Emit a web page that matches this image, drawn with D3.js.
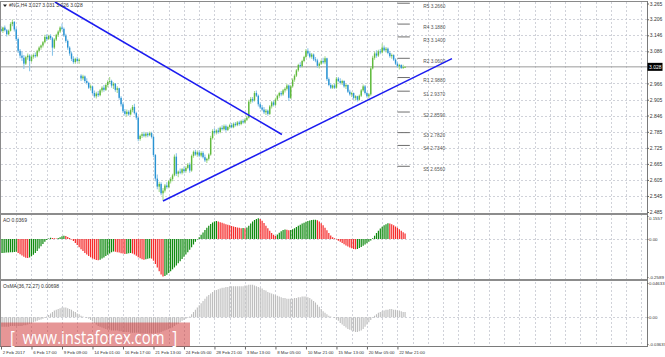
<!DOCTYPE html>
<html><head><meta charset="utf-8">
<script src="https://cdn.jsdelivr.net/npm/d3@7"></script>
<style>body{margin:0;background:#fff}svg{display:block}</style>
</head><body><svg id="c" width="665" height="357"></svg>
<script>
// ---------- DATA ----------
const open=[3.170,3.162,3.175,3.165,3.150,3.163,3.188,3.196,3.168,3.132,
3.088,3.070,3.062,3.040,3.064,3.070,3.050,3.066,3.072,3.068,
3.088,3.100,3.108,3.120,3.140,3.132,3.144,3.135,3.100,3.130,
3.148,3.160,3.175,3.170,3.145,3.125,3.100,3.078,3.058,3.046,
3.058,3.050,2.995,2.985,2.992,2.975,2.968,2.950,2.955,2.930,
2.918,2.928,2.922,2.940,2.950,2.942,2.960,2.972,2.975,2.958,
2.965,2.942,2.948,2.912,2.888,2.862,2.852,2.860,2.850,2.866,
2.878,2.855,2.838,2.758,2.770,2.776,2.770,2.778,2.772,2.780,
2.766,2.698,2.610,2.580,2.590,2.555,2.565,2.584,2.578,2.600,
2.608,2.622,2.692,2.628,2.636,2.632,2.645,2.638,2.650,2.662,
2.640,2.695,2.710,2.700,2.708,2.696,2.706,2.690,2.678,2.684,
2.700,2.762,2.788,2.782,2.790,2.784,2.800,2.795,2.806,2.792,
2.803,2.810,2.802,2.815,2.810,2.820,2.814,2.825,2.820,2.830,
2.838,2.898,2.908,2.902,2.930,2.920,2.888,2.876,2.868,2.858,
2.864,2.852,2.880,2.895,2.886,2.906,2.920,2.930,2.925,2.940,
2.946,2.958,2.912,2.955,2.980,2.995,3.015,3.035,3.030,3.050,
3.065,3.088,3.078,3.066,3.074,3.056,3.052,3.032,3.040,3.050,
3.045,3.060,2.982,2.960,2.950,2.958,2.950,2.984,2.975,2.968,
2.975,2.955,2.960,2.935,2.925,2.930,2.912,2.918,2.905,2.920,
2.940,2.955,2.930,2.918,2.925,3.022,3.062,3.078,3.070,3.086,
3.082,3.100,3.090,3.096,3.080,3.068,3.072,3.055,3.040,3.030,
3.035,3.024,3.027];
const high=[3.180,3.178,3.183,3.170,3.168,3.195,3.205,3.200,3.175,3.138,
3.095,3.085,3.072,3.070,3.078,3.075,3.072,3.078,3.082,3.092,
3.105,3.112,3.125,3.148,3.150,3.148,3.150,3.140,3.135,3.152,
3.165,3.180,3.190,3.175,3.152,3.130,3.105,3.085,3.068,3.062,
3.066,3.060,3.000,2.998,2.996,2.985,2.972,2.962,2.958,2.940,
2.935,2.938,2.945,2.955,2.960,2.965,2.978,2.990,2.980,2.970,
2.968,2.955,2.950,2.918,2.895,2.870,2.868,2.866,2.872,2.885,
2.890,2.860,2.842,2.775,2.782,2.785,2.782,2.784,2.786,2.785,
2.770,2.702,2.625,2.598,2.596,2.575,2.590,2.596,2.605,2.615,
2.628,2.700,2.705,2.640,2.648,2.650,2.655,2.656,2.668,2.670,
2.700,2.715,2.718,2.715,2.716,2.712,2.712,2.700,2.688,2.705,
2.770,2.795,2.798,2.795,2.800,2.805,2.810,2.812,2.812,2.808,
2.815,2.818,2.820,2.822,2.825,2.826,2.830,2.832,2.836,2.845,
2.905,2.915,2.915,2.938,2.940,2.925,2.895,2.885,2.878,2.870,
2.868,2.885,2.900,2.902,2.912,2.925,2.935,2.938,2.945,2.952,
2.965,2.962,2.960,2.985,3.000,3.020,3.040,3.045,3.055,3.070,
3.095,3.098,3.085,3.080,3.078,3.065,3.058,3.045,3.055,3.062,
3.068,3.062,2.988,2.968,2.962,2.965,2.990,2.990,2.985,2.980,
2.978,2.965,2.962,2.942,2.935,2.932,2.922,2.920,2.925,2.945,
2.962,2.960,2.935,2.930,3.030,3.070,3.085,3.090,3.092,3.095,
3.115,3.108,3.102,3.100,3.086,3.078,3.075,3.060,3.048,3.040,
3.038,3.036,3.031];
const low=[3.158,3.155,3.160,3.142,3.145,3.160,3.180,3.160,3.125,3.080,
3.060,3.050,3.020,3.035,3.055,3.012,3.045,3.058,3.062,3.064,
3.082,3.092,3.100,3.115,3.125,3.128,3.128,3.070,3.095,3.125,
3.140,3.155,3.165,3.140,3.118,3.092,3.070,3.050,3.040,3.040,
3.045,3.040,2.975,2.978,2.968,2.962,2.945,2.940,2.925,2.912,
2.910,2.915,2.918,2.932,2.935,2.938,2.952,2.965,2.950,2.945,
2.935,2.930,2.905,2.880,2.855,2.845,2.842,2.845,2.846,2.858,
2.850,2.830,2.750,2.752,2.762,2.765,2.764,2.765,2.768,2.760,
2.690,2.600,2.570,2.560,2.548,2.528,2.558,2.572,2.574,2.592,
2.600,2.618,2.620,2.615,2.626,2.625,2.630,2.632,2.645,2.632,
2.636,2.688,2.695,2.692,2.690,2.690,2.685,2.672,2.668,2.678,
2.695,2.756,2.776,2.775,2.778,2.780,2.790,2.790,2.785,2.788,
2.796,2.798,2.798,2.805,2.806,2.808,2.810,2.815,2.816,2.825,
2.835,2.890,2.895,2.898,2.915,2.880,2.870,2.862,2.852,2.848,
2.845,2.848,2.872,2.880,2.882,2.900,2.912,2.918,2.920,2.932,
2.940,2.900,2.908,2.950,2.972,2.990,3.010,3.025,3.026,3.045,
3.060,3.070,3.060,3.058,3.050,3.045,3.025,3.022,3.035,3.040,
3.038,2.975,2.955,2.945,2.945,2.945,2.946,2.970,2.962,2.960,
2.950,2.945,2.930,2.920,2.915,2.905,2.902,2.898,2.902,2.915,
2.935,2.925,2.912,2.910,2.920,3.018,3.055,3.062,3.065,3.075,
3.078,3.085,3.082,3.075,3.062,3.058,3.050,3.035,3.025,3.018,
3.020,3.020,3.026];
const close=[3.162,3.175,3.165,3.150,3.163,3.188,3.196,3.168,3.132,3.088,
3.070,3.062,3.040,3.064,3.070,3.050,3.066,3.072,3.068,3.088,
3.100,3.108,3.120,3.140,3.132,3.144,3.135,3.100,3.130,3.148,
3.160,3.175,3.170,3.145,3.125,3.100,3.078,3.058,3.046,3.058,
3.050,3.055,2.985,2.992,2.975,2.968,2.950,2.955,2.930,2.918,
2.928,2.922,2.940,2.950,2.942,2.960,2.972,2.975,2.958,2.965,
2.942,2.948,2.912,2.888,2.862,2.852,2.860,2.850,2.866,2.878,
2.855,2.838,2.758,2.770,2.776,2.770,2.778,2.772,2.780,2.766,
2.698,2.610,2.580,2.590,2.555,2.565,2.584,2.578,2.600,2.608,
2.622,2.692,2.628,2.636,2.632,2.645,2.638,2.650,2.662,2.640,
2.695,2.710,2.700,2.708,2.696,2.706,2.690,2.678,2.684,2.700,
2.762,2.788,2.782,2.790,2.784,2.800,2.795,2.806,2.792,2.803,
2.810,2.802,2.815,2.810,2.820,2.814,2.825,2.820,2.830,2.838,
2.898,2.908,2.902,2.930,2.920,2.888,2.876,2.868,2.858,2.864,
2.852,2.880,2.895,2.886,2.906,2.920,2.930,2.925,2.940,2.946,
2.958,2.912,2.955,2.980,2.995,3.015,3.035,3.030,3.050,3.065,
3.088,3.078,3.066,3.074,3.056,3.052,3.032,3.040,3.050,3.045,
3.060,2.982,2.960,2.950,2.958,2.950,2.984,2.975,2.968,2.975,
2.955,2.960,2.935,2.925,2.930,2.912,2.918,2.905,2.920,2.940,
2.955,2.930,2.918,2.925,3.022,3.062,3.078,3.070,3.086,3.082,
3.100,3.090,3.096,3.080,3.068,3.072,3.055,3.040,3.030,3.035,
3.024,3.027,3.028];
const ao=[-0.096,-0.095,-0.094,-0.093,-0.092,-0.091,-0.090,-0.089,-0.088,-0.095,
-0.104,-0.113,-0.122,-0.128,-0.130,-0.126,-0.118,-0.108,-0.096,-0.082,
-0.066,-0.050,-0.034,-0.020,-0.008,0.002,0.008,0.006,0.004,0.003,
0.007,0.012,0.018,0.021,0.019,0.013,0.006,-0.004,-0.015,-0.028,
-0.042,-0.056,-0.070,-0.083,-0.095,-0.106,-0.116,-0.125,-0.133,-0.139,
-0.143,-0.145,-0.141,-0.134,-0.126,-0.117,-0.108,-0.099,-0.091,-0.085,
-0.087,-0.090,-0.093,-0.097,-0.100,-0.103,-0.101,-0.098,-0.096,-0.099,
-0.106,-0.115,-0.124,-0.132,-0.138,-0.141,-0.139,-0.135,-0.132,-0.134,
-0.148,-0.170,-0.195,-0.220,-0.242,-0.256,-0.252,-0.243,-0.232,-0.220,
-0.207,-0.194,-0.180,-0.166,-0.152,-0.137,-0.122,-0.106,-0.090,-0.074,
-0.056,-0.038,-0.020,-0.004,0.012,0.028,0.044,0.060,0.075,0.089,
0.101,0.111,0.118,0.121,0.118,0.114,0.110,0.105,0.100,0.096,
0.092,0.088,0.084,0.081,0.078,0.075,0.073,0.074,0.072,0.078,
0.090,0.104,0.118,0.128,0.136,0.141,0.136,0.124,0.108,0.090,
0.072,0.055,0.040,0.028,0.020,0.030,0.042,0.052,0.060,0.064,
0.062,0.058,0.060,0.066,0.073,0.081,0.089,0.097,0.104,0.110,
0.116,0.121,0.125,0.128,0.130,0.131,0.126,0.118,0.106,0.092,
0.076,0.058,0.040,0.024,0.012,0.004,-0.004,-0.012,-0.020,-0.028,
-0.036,-0.044,-0.052,-0.058,-0.064,-0.068,-0.071,-0.068,-0.062,-0.055,
-0.047,-0.038,-0.029,-0.020,-0.010,0.004,0.022,0.040,0.056,0.070,
0.082,0.092,0.100,0.106,0.104,0.099,0.092,0.084,0.075,0.065,
0.056,0.046,0.0369];
const osma=[-0.013,-0.013,-0.013,-0.013,-0.013,-0.012,-0.012,-0.012,-0.012,-0.012,
-0.012,-0.012,-0.011,-0.011,-0.010,-0.009,-0.008,-0.007,-0.006,-0.005,
-0.004,-0.003,-0.002,-0.001,0.001,0.003,0.005,0.007,0.009,0.010,
0.011,0.012,0.013,0.013,0.013,0.012,0.011,0.010,0.008,0.007,
0.005,0.004,0.002,0.001,0.000,-0.001,-0.002,-0.004,-0.006,-0.008,
-0.010,-0.012,-0.013,-0.014,-0.015,-0.016,-0.017,-0.017,-0.018,-0.018,
-0.018,-0.018,-0.019,-0.019,-0.020,-0.020,-0.020,-0.020,-0.021,-0.021,
-0.021,-0.021,-0.021,-0.022,-0.022,-0.022,-0.022,-0.022,-0.022,-0.022,
-0.022,-0.022,-0.021,-0.021,-0.020,-0.019,-0.018,-0.017,-0.016,-0.015,
-0.014,-0.012,-0.010,-0.009,-0.007,-0.005,-0.004,-0.002,-0.001,0.001,
0.004,0.007,0.010,0.013,0.016,0.019,0.022,0.025,0.028,0.030,
0.032,0.034,0.036,0.037,0.038,0.039,0.040,0.040,0.041,0.041,
0.042,0.042,0.042,0.042,0.042,0.042,0.042,0.042,0.043,0.043,
0.044,0.044,0.044,0.043,0.042,0.041,0.040,0.039,0.037,0.036,
0.034,0.033,0.032,0.031,0.030,0.029,0.028,0.027,0.026,0.026,
0.025,0.025,0.025,0.025,0.026,0.026,0.027,0.027,0.028,0.028,
0.028,0.027,0.026,0.024,0.022,0.020,0.017,0.014,0.011,0.008,
0.006,0.004,0.002,0.001,0.000,-0.001,-0.003,-0.005,-0.008,-0.010,
-0.012,-0.014,-0.016,-0.017,-0.018,-0.019,-0.020,-0.020,-0.019,-0.018,
-0.016,-0.013,-0.010,-0.007,-0.004,-0.001,0.002,0.004,0.006,0.007,
0.008,0.009,0.010,0.010,0.011,0.011,0.010,0.010,0.009,0.009,
0.008,0.007,0.00698];
const priceTicks=[3.265,3.206,3.146,3.086,2.966,2.905,2.846,2.785,2.725,2.665,2.605,2.545,2.485];
const priceTickLabels=["3.265","3.206","3.146","3.086","2.966","2.905","2.846","2.785","2.725","2.665","2.605","2.545","2.485"];
const timeIdx=[0,16,32,48,64,80,96,112,128,144,160,176,192,208];
const timeLabels=["2 Feb 2017","6 Feb 17:00","9 Feb 09:00","14 Feb 01:00","16 Feb 17:00","21 Feb 13:00","24 Feb 05:00","28 Feb 21:00","3 Mar 13:00","8 Mar 05:00","10 Mar 21:00","15 Mar 13:00","20 Mar 05:00","22 Mar 21:00"];
const pivotNames=["R5","R4","R3","R2","R1","S1","S2","S3","S4","S5"];
const pivotValues=[3.2660,3.1880,3.1400,3.0600,2.9880,2.9370,2.8590,2.7820,2.7340,2.6560];
const pivotSpan=[208,214.5,221.5]; // bar index: line start, line end, label start
const trend1=[[28.3,3.2706],[147.4,2.775]];
const trend2=[[85.0,2.526],[236.6,3.059]];
const aoTicks=[0.1557,0,-0.2589], aoTickLabels=["0.1557","0.00","-0.2589"];
const osTicks=[0.04633,0,-0.03637], osTickLabels=["0.04633","0.00","-0.03637"];
const titleText="#NG,H4  3.027 3.031 3.026 3.028";
const aoTitle="AO 0.0369", osTitle="OsMA(36,72,27) 0.00698";
const lastPrice=3.028;

// ---------- SCALES ----------
const svg=d3.select('#c');
const FONT='"Liberation Sans", Arial, sans-serif';
const x=d3.scaleLinear().domain([0,339]).range([1,1+339*1.906]);
const yM=d3.scaleLinear().domain([2.485,3.265]).range([212,3.5]);
const yA=d3.scaleLinear().domain([-0.2589,0.1557]).range([277,216]);
const yO=d3.scaleLinear().domain([-0.03637,0.04633]).range([344,283]);
const R=647;

svg.append('rect').attr('width',665).attr('height',357).attr('fill','#fff');

const defs=svg.append('defs');
defs.append('clipPath').attr('id','cm').append('rect').attr('x',1).attr('y',1.5).attr('width',R-1).attr('height',211);
defs.append('clipPath').attr('id','ca').append('rect').attr('x',1).attr('y',215.5).attr('width',R-1).attr('height',63.5);
defs.append('clipPath').attr('id','co').append('rect').attr('x',1).attr('y',281.5).attr('width',R-1).attr('height',65);

// ---------- GRID ----------
const grid=svg.append('g').attr('stroke','#c4c7cf').attr('stroke-width',0.8).attr('stroke-dasharray','2,2').attr('shape-rendering','crispEdges');
const vIdx=d3.range(8,337,8);
grid.selectAll('line.v').data(vIdx).join('line').attr('class','v')
  .attr('x1',d=>Math.round(x(d))+0.5).attr('x2',d=>Math.round(x(d))+0.5).attr('y1',2).attr('y2',346);
grid.selectAll('line.h').data(priceTicks.slice(1,-1)).join('line').attr('class','h')
  .attr('x1',1).attr('x2',R).attr('y1',d=>Math.round(yM(d))+0.5).attr('y2',d=>Math.round(yM(d))+0.5);
grid.append('line').attr('x1',1).attr('x2',R).attr('y1',Math.round(yA(0))+0.5).attr('y2',Math.round(yA(0))+0.5);
grid.append('line').attr('x1',1).attr('x2',R).attr('y1',Math.round(yO(0))+0.5).attr('y2',Math.round(yO(0))+0.5);

// ---------- MAIN PANEL ----------
const main=svg.append('g').attr('clip-path','url(#cm)');
main.append('line').attr('x1',1).attr('x2',R).attr('y1',yM(lastPrice)).attr('y2',yM(lastPrice)).attr('stroke','#9a9a9a').attr('stroke-width',1);
const bars=d3.range(close.length).map(i=>({i,o:open[i],h:high[i],l:low[i],c:close[i]}));
const UP='#5fb93c', UPL='#a6da90', DN='#2a93d3', DNL='#8cc6ea';
main.selectAll('line.wick').data(bars).join('line').attr('class','wick')
  .attr('x1',d=>x(d.i)).attr('x2',d=>x(d.i)).attr('y1',d=>yM(d.h)).attr('y2',d=>yM(d.l))
  .attr('stroke',d=>d.c>=d.o?UPL:DNL).attr('stroke-width',1.1);
main.selectAll('rect.body').data(bars).join('rect').attr('class','body')
  .attr('x',d=>x(d.i)-0.7).attr('width',1.4)
  .attr('y',d=>yM(Math.max(d.o,d.c))).attr('height',d=>Math.max(0.9,Math.abs(yM(d.o)-yM(d.c))))
  .attr('fill',d=>d.c>=d.o?UP:DN);
const piv=main.append('g');
piv.selectAll('line').data(pivotValues).join('line')
  .attr('x1',x(pivotSpan[0])).attr('x2',x(pivotSpan[1])).attr('y1',d=>yM(d)).attr('y2',d=>yM(d))
  .attr('stroke','#6e6e6e').attr('stroke-width',1);
piv.selectAll('text').data(pivotValues).join('text')
  .attr('x',x(pivotSpan[2])).attr('y',d=>yM(d)+4.6)
  .attr('font-family',FONT).attr('font-size',4.8).attr('fill','#555')
  .text((d,i)=>pivotNames[i]+' '+d.toFixed(4));
const tl=d3.line().x(d=>x(d[0])).y(d=>yM(d[1]));
[trend1,trend2].forEach(t=>main.append('path').attr('d',tl(t)).attr('stroke','#1c1cf0').attr('stroke-width',1.5).attr('fill','none'));

// ---------- AO PANEL ----------
const aoG=svg.append('g').attr('clip-path','url(#ca)');
aoG.selectAll('line').data(ao).join('line')
  .attr('x1',(d,i)=>x(i)).attr('x2',(d,i)=>x(i)).attr('y1',yA(0)).attr('y2',d=>yA(d))
  .attr('stroke',(d,i)=>(i===0||d>ao[i-1])?'#0f8a0f':'#f52a2a').attr('stroke-width',1.2);

// ---------- OsMA PANEL ----------
const osG=svg.append('g').attr('clip-path','url(#co)');
osG.selectAll('line').data(osma).join('line')
  .attr('x1',(d,i)=>x(i)).attr('x2',(d,i)=>x(i)).attr('y1',yO(0)).attr('y2',d=>yO(d))
  .attr('stroke','#bdbdbd').attr('stroke-width',1.1);

// ---------- FRAMES ----------
const fr=svg.append('g').attr('shape-rendering','crispEdges');
fr.append('line').attr('x1',0.5).attr('x2',R).attr('y1',1.5).attr('y2',1.5).attr('stroke','#8a8a8a');
fr.append('line').attr('x1',0.5).attr('x2',0.5).attr('y1',1).attr('y2',347).attr('stroke','#8a8a8a');
fr.append('rect').attr('x',0).attr('y',212.5).attr('width',R+1).attr('height',2.6).attr('fill','#8c8c8c');
fr.append('rect').attr('x',0).attr('y',279).attr('width',R+1).attr('height',2.4).attr('fill','#8c8c8c');
fr.append('line').attr('x1',0).attr('x2',R+1).attr('y1',346.5).attr('y2',346.5).attr('stroke','#7a7a7a');
fr.append('line').attr('x1',R+0.5).attr('x2',R+0.5).attr('y1',1).attr('y2',347).attr('stroke','#7a7a7a');

// ---------- AXES ----------
function styleAxis(fs){return g=>{g.select('.domain').remove();g.attr('font-family',FONT).attr('font-size',fs).attr('color','#666');g.selectAll('text').attr('fill','#333');};}
svg.append('g').attr('transform',`translate(${R},0)`)
  .call(d3.axisRight(yM).tickValues(priceTicks).tickSize(2).tickPadding(0.8).tickFormat((d,i)=>priceTickLabels[i])).call(styleAxis(5));
svg.append('g').attr('transform',`translate(${R},0)`)
  .call(d3.axisRight(yA).tickValues(aoTicks).tickSize(1.5).tickPadding(0.5).tickFormat((d,i)=>aoTickLabels[i])).call(styleAxis(4.4))
  .selectAll('.tick').filter((d,i)=>i===0).select('text').attr('dy','0.9em');
svg.append('g').attr('transform',`translate(${R},0)`)
  .call(d3.axisRight(yO).tickValues(osTicks).tickSize(1.5).tickPadding(0.5).tickFormat((d,i)=>osTickLabels[i])).call(styleAxis(4.3));
const tx=svg.append('g').attr('transform','translate(0,347)')
  .call(d3.axisBottom(x).tickValues(timeIdx).tickSize(2.5).tickPadding(1).tickFormat((d,i)=>timeLabels[i])).call(styleAxis(4.4));
tx.selectAll('text').attr('text-anchor','start').attr('x',1.2);

// current price box
svg.append('rect').attr('x',R+0.5).attr('y',yM(lastPrice)-4).attr('width',15).attr('height',8).attr('fill','#000');
svg.append('text').attr('x',R+2).attr('y',yM(lastPrice)+1.8).attr('font-family',FONT).attr('font-size',5).attr('fill','#fff').text(lastPrice.toFixed(3));

// ---------- TITLES ----------
svg.append('path').attr('d','M3,4.5 L7,4.5 L5,7 Z').attr('fill','#222');
svg.append('text').attr('x',9).attr('y',7.2).attr('font-family',FONT).attr('font-size',5).attr('fill','#333').text(titleText);
svg.append('text').attr('x',3).attr('y',221.5).attr('font-family',FONT).attr('font-size',5).attr('fill','#333').text(aoTitle);
svg.append('text').attr('x',3).attr('y',288).attr('font-family',FONT).attr('font-size',5).attr('fill','#333').text(osTitle);

// ---------- WATERMARK ----------
svg.append('rect').attr('x',1).attr('y',322.5).attr('width',189).attr('height',24).attr('fill','#cd2d2d').attr('opacity',0.5);
svg.append('text').attr('x',10).attr('y',343.5).attr('font-family','"Open Sans", "Liberation Sans", sans-serif').attr('fill','#fff')
  .attr('font-size',18).attr('textLength',167).attr('lengthAdjust','spacingAndGlyphs').attr('xml:space','preserve')
  .style('white-space','pre').text('[  www.instaforex.com  ]');
</script></body></html>
